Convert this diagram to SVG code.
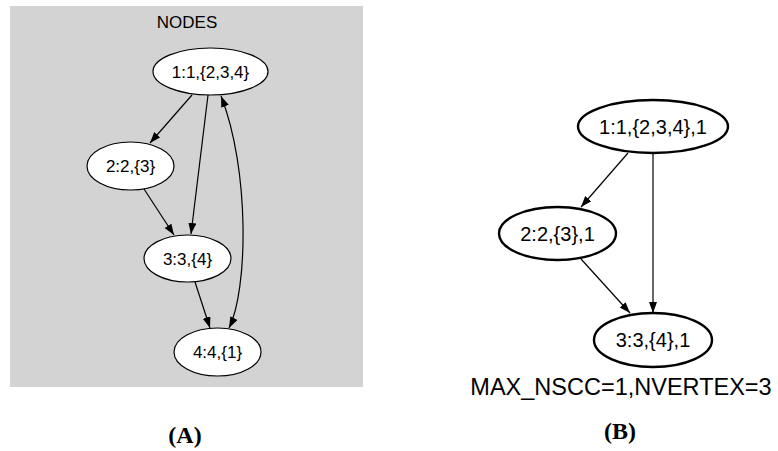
<svg xmlns="http://www.w3.org/2000/svg" width="778" height="451" viewBox="0 0 778 451">
<style>
.a{fill:#fff;stroke:#000;stroke-width:1.2}
.b{fill:#fff;stroke:#000;stroke-width:2.4}
.t{font-family:"Liberation Sans",Arial,sans-serif;font-size:17px;text-anchor:middle;fill:#000}
.tb{font-family:"Liberation Sans",Arial,sans-serif;font-size:20px;text-anchor:middle;fill:#000}
.e{fill:none;stroke:#000;stroke-width:1.2}
.p{font-family:"Liberation Serif","Times New Roman",serif;font-size:24px;font-weight:bold;text-anchor:middle;fill:#000}
</style>
<defs>
<marker id="ar" markerUnits="userSpaceOnUse" markerWidth="12" markerHeight="10" refX="11" refY="4" orient="auto-start-reverse">
<path d="M0,0 L11,4 L0,8 z" fill="#000"/>
</marker>
</defs>
<rect x="10" y="6" width="353" height="381" fill="#d3d3d3"/>
<text class="t" x="187" y="28">NODES</text>
<g id="connectors">
<path class="e" d="M192,95 L150,143" marker-end="url(#ar)"/>
<path class="e" d="M208,95 L191,234" marker-end="url(#ar)"/>
<path class="e" d="M229,328 C248,290 250,170 221,96" marker-start="url(#ar)" marker-end="url(#ar)"/>
<path class="e" d="M144,189 L174,235" marker-end="url(#ar)"/>
<path class="e" d="M195,282 L210,328" marker-end="url(#ar)"/>
<path class="e" d="M628,153 L581,207" marker-end="url(#ar)"/>
<path class="e" d="M653,153 L653,313" marker-end="url(#ar)"/>
<path class="e" d="M581,259 L630,313" marker-end="url(#ar)"/>
</g>
<g id="a1"><ellipse class="a" cx="210.5" cy="71.5" rx="57.5" ry="23.5"/><text class="t" x="210.5" y="77.5">1:1,{2,3,4}</text></g>
<g id="a2"><ellipse class="a" cx="130.5" cy="166" rx="43.5" ry="24"/><text class="t" x="130.5" y="172">2:2,{3}</text></g>
<g id="a3"><ellipse class="a" cx="187.5" cy="258.5" rx="43.5" ry="23.5"/><text class="t" x="187.5" y="264.5">3:3,{4}</text></g>
<g id="a4"><ellipse class="a" cx="217.5" cy="352" rx="43.5" ry="24"/><text class="t" x="217.5" y="358">4:4,{1}</text></g>
<g id="b1"><ellipse class="b" cx="653" cy="126.5" rx="75" ry="26.5"/><text class="tb" x="653" y="133.5">1:1,{2,3,4},1</text></g>
<g id="b2"><ellipse class="b" cx="557.5" cy="233.5" rx="58.5" ry="26.5"/><text class="tb" x="557.5" y="240.5">2:2,{3},1</text></g>
<g id="b3"><ellipse class="b" cx="653" cy="340" rx="59" ry="27"/><text class="tb" x="653" y="347">3:3,{4},1</text></g>
<text x="621" y="395" font-family="Liberation Sans, Arial, sans-serif" font-size="23.5" text-anchor="middle">MAX_NSCC=1,NVERTEX=3</text>
<text class="p" x="185" y="443">(A)</text>
<text class="p" x="620" y="439">(B)</text>
</svg>
